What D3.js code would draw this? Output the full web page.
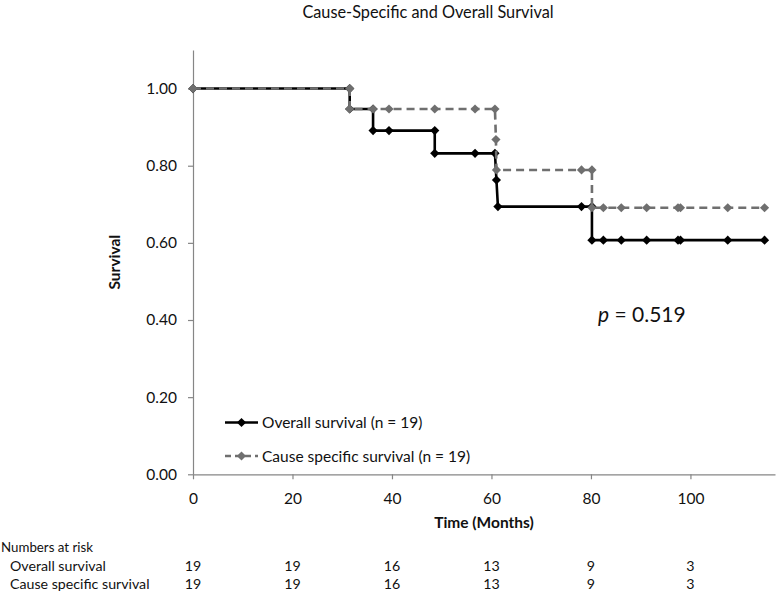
<!DOCTYPE html>
<html><head><meta charset="utf-8">
<script src="https://cdn.jsdelivr.net/npm/d3@7"></script>
<style>
html,body{margin:0;padding:0;background:#fff;}
svg{display:block;font-family:Lato, "Open Sans", sans-serif;}
</style></head>
<body>
<svg id="chart" width="780" height="592"></svg>
<script>
// ---- data ----
const overallTime = [0, 31.5, 31.5, 36.2, 36.2, 39.4, 48.6, 48.6, 56.7, 60.7, 61.0, 61.3, 78.1, 80.2, 80.2, 82.5, 86.1, 91.2, 97.5, 98.0, 107.5, 114.9];
const overallSurv = [1.0, 1.0, 0.947, 0.947, 0.891, 0.891, 0.891, 0.832, 0.832, 0.832, 0.763, 0.694, 0.694, 0.694, 0.607, 0.607, 0.607, 0.607, 0.607, 0.607, 0.607, 0.607];
const causeTime = [0, 31.5, 31.5, 36.2, 39.4, 48.6, 56.7, 60.7, 60.9, 61.0, 78.1, 80.2, 80.2, 82.5, 86.1, 91.2, 97.5, 98.0, 107.5, 114.9];
const causeSurv = [1.0, 1.0, 0.947, 0.947, 0.947, 0.947, 0.947, 0.947, 0.868, 0.789, 0.789, 0.789, 0.691, 0.691, 0.691, 0.691, 0.691, 0.691, 0.691, 0.691];
const xTicks = [0, 20, 40, 60, 80, 100];
const yTicks = [0, 0.2, 0.4, 0.6, 0.8, 1.0];
const riskTimes = [0, 20, 40, 60, 80, 100];
const riskOverall = [19, 19, 16, 13, 9, 3];
const riskCause = [19, 19, 16, 13, 9, 3];
const seriesNames = ["Overall survival (n = 19)", "Cause specific survival (n = 19)"];
const riskLabels = ["Overall survival", "Cause specific survival"];

const svg = d3.select("#chart");
const x = d3.scaleLinear().domain([0, 117]).range([193, 775]);
const y = d3.scaleLinear().domain([0, 1.1]).range([474.3, 50]);
const axisColor = "#868686";

// title
svg.append("text").attr("x", 428).attr("y", 17.5).attr("text-anchor", "middle")
  .attr("font-size", 16.3).attr("fill", "#111").text("Cause-Specific and Overall Survival");

// axes
const gx = svg.append("g").attr("transform", `translate(0,${y(0)})`)
  .call(d3.axisBottom(x).tickValues(xTicks).tickSize(5).tickSizeOuter(0).tickPadding(14));
const gy = svg.append("g").attr("transform", `translate(${x(0)},0)`)
  .call(d3.axisLeft(y).tickValues(yTicks).tickSize(5).tickSizeOuter(0).tickPadding(11).tickFormat(d3.format(".2f")));
[gx, gy].forEach(g => {
  g.select(".domain").attr("stroke", axisColor).attr("stroke-width", 1.2);
  g.selectAll(".tick line").attr("stroke", axisColor).attr("stroke-width", 1.2);
  g.selectAll(".tick text").attr("font-size", 15.5).attr("fill", "#111").attr("font-family", "Lato, sans-serif");
});

// axis titles
svg.append("text").attr("x", 484).attr("y", 528).attr("text-anchor", "middle")
  .attr("font-size", 15.5).attr("font-weight", "bold").attr("fill", "#111").text("Time (Months)");
svg.append("text").attr("transform", `translate(120,${(y(0)+y(1.1))/2}) rotate(-90)`)
  .attr("text-anchor", "middle").attr("font-size", 15.5).attr("font-weight", "bold").attr("fill", "#111").text("Survival");

// series
const diamond = r => `M0,${-r}L${r},0L0,${r}L${-r},0Z`;
const series = [
  {t: overallTime, s: overallSurv, color: "#000", dash: null},
  {t: causeTime, s: causeSurv, color: "#6f6f6f", dash: "8,5"}
];
const line = d3.line().x(d => x(d[0])).y(d => y(d[1]));
series.forEach(ser => {
  const pts = ser.t.map((t, i) => [t, ser.s[i]]);
  svg.append("path").datum(pts).attr("d", line).attr("fill", "none")
    .attr("stroke", ser.color).attr("stroke-width", 2.6)
    .attr("stroke-dasharray", ser.dash);
  svg.append("g").selectAll("path").data(pts).join("path")
    .attr("transform", d => `translate(${x(d[0])},${y(d[1])})`)
    .attr("d", diamond(4.6)).attr("fill", ser.color);
});

// legend
series.forEach((ser, i) => {
  const ly = 422.5 + i * 33.5;
  svg.append("line").attr("x1", 225).attr("x2", 258).attr("y1", ly).attr("y2", ly)
    .attr("stroke", ser.color).attr("stroke-width", 2.6).attr("stroke-dasharray", ser.dash ? "6,4" : null);
  svg.append("path").attr("transform", `translate(241.5,${ly})`).attr("d", diamond(4.6)).attr("fill", ser.color);
  svg.append("text").attr("x", 262).attr("y", ly + 5.5).attr("font-size", 15.5).attr("fill", "#111").text(seriesNames[i]);
});

// p value
const pt = svg.append("text").attr("x", 598).attr("y", 322).attr("font-size", 21).attr("fill", "#111");
pt.append("tspan").attr("font-style", "italic").text("p");
pt.append("tspan").text(" = 0.519");

// numbers at risk
svg.append("text").attr("x", 1).attr("y", 552).attr("font-size", 13.3).attr("fill", "#111").text("Numbers at risk");
[riskOverall, riskCause].forEach((arr, i) => {
  const ry = 570.5 + i * 18.5;
  svg.append("text").attr("x", 10).attr("y", ry).attr("font-size", 14.2).attr("fill", "#111").text(riskLabels[i]);
  svg.append("g").selectAll("text").data(arr).join("text")
    .attr("x", (d, j) => x(riskTimes[j])).attr("y", ry).attr("text-anchor", "middle")
    .attr("font-size", 14.2).attr("fill", "#111").text(d => d);
});
</script>
</body></html>
